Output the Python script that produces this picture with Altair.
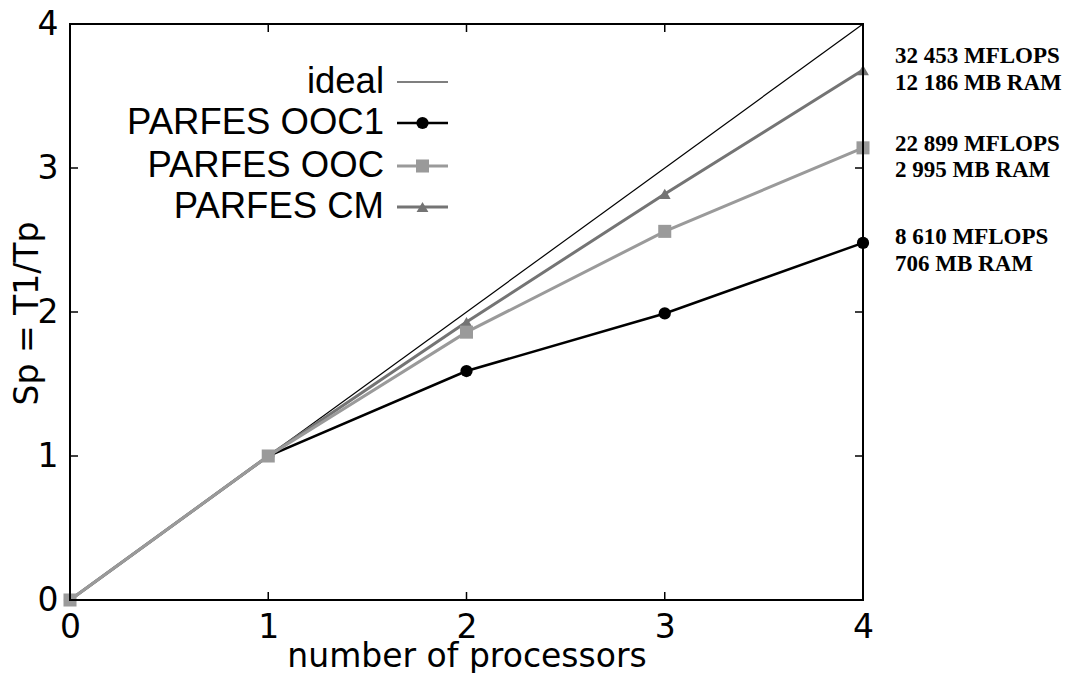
import altair as alt
import pandas as pd

# ---- data ----
procs = [0, 1, 2, 3, 4]
ooc1 = [0.0, 1.0, 1.59, 1.99, 2.48]
ooc = [0.0, 1.0, 1.86, 2.56, 3.14]
cm = [0.0, 1.0, 1.93, 2.82, 3.68]
ideal_x = [0, 4]
ideal_y = [0, 4]
tick_vals = [0, 1, 2, 3, 4]

legend_names = ["ideal", "PARFES OOC1", "PARFES OOC", "PARFES CM"]
annotations = [
    "32 453 MFLOPS", "12 186 MB RAM",
    "22 899 MFLOPS", "2 995 MB RAM",
    "8 610 MFLOPS", "706 MB RAM",
]

W, H = 793, 576
SANS = "DejaVu Sans"
LEG = "Liberation Sans"
SERIF = "Liberation Serif"

xs = alt.Scale(domain=[0, 4], nice=False, zero=False)
ys = alt.Scale(domain=[0, 4], nice=False, zero=False)

x_axis = alt.Axis(values=tick_vals, ticks=False, domain=False, grid=False,
                  labelFont=SANS, labelFontSize=33, labelColor="black",
                  labelPadding=11, labelFlush=False, labelOverlap=False,
                  labelBound=False, format="d",
                  title="number of processors", titleFont=SANS,
                  titleFontSize=33, titleFontWeight="normal", titleColor="black",
                  titleY=66, titleBaseline="alphabetic")
y_axis = alt.Axis(values=tick_vals, ticks=False, domain=False, grid=False,
                  labelFont=SANS, labelFontSize=33, labelColor="black",
                  labelPadding=12, labelFlush=False, labelOverlap=False,
                  labelBound=False, format="d",
                  title="Sp = T1/Tp", titleFont=SANS, titleFontSize=33,
                  titleFontWeight="normal", titleColor="black",
                  titleX=-33, titleY=289, titleAngle=270,
                  titleBaseline="alphabetic", titleAlign="center")

ideal_df = pd.DataFrame({"x": ideal_x, "y": ideal_y})
base_ideal = alt.Chart(ideal_df).mark_line(color="black", strokeWidth=1.2).encode(
    x=alt.X("x:Q", scale=xs, axis=x_axis),
    y=alt.Y("y:Q", scale=ys, axis=y_axis),
)

GRAY_L = "#9a9a9a"
GRAY_D = "#747474"
series = [
    ("PARFES OOC1", ooc1, "black", 2.5, "circle", 150),
    ("PARFES CM", cm, GRAY_D, 3, "triangle-up", 140),
    ("PARFES OOC", ooc, GRAY_L, 3, "square", 170),
]

layers = [base_ideal]
for name, vals, col, sw, shp, sz in series:
    df = pd.DataFrame({"x": procs, "y": vals})
    ln = alt.Chart(df).mark_line(color=col, strokeWidth=sw).encode(
        x=alt.X("x:Q", scale=xs), y=alt.Y("y:Q", scale=ys))
    pt = alt.Chart(df).mark_point(color=col, filled=True, opacity=1,
                                  shape=shp, size=sz).encode(
        x=alt.X("x:Q", scale=xs), y=alt.Y("y:Q", scale=ys))
    layers += [ln, pt]

one = pd.DataFrame({"a": [0]})

# frame (gnuplot border)
frame = [
    dict(x=alt.value(0), x2=alt.value(W), y=alt.value(0)),
    dict(x=alt.value(0), x2=alt.value(W), y=alt.value(H)),
    dict(y=alt.value(0), y2=alt.value(H), x=alt.value(0)),
    dict(y=alt.value(0), y2=alt.value(H), x=alt.value(W)),
]
for enc in frame:
    layers.append(alt.Chart(one).mark_rule(color="black", strokeWidth=2,
                                           strokeCap="square").encode(**enc))

# inward ticks on all four sides (gnuplot style)
tdf = pd.DataFrame({"v": tick_vals})
layers.append(alt.Chart(tdf).mark_rule(color="black", strokeWidth=1.5).encode(
    x=alt.X("v:Q", scale=xs), y=alt.value(H), y2=alt.value(H - 8)))
layers.append(alt.Chart(tdf).mark_rule(color="black", strokeWidth=1.5).encode(
    x=alt.X("v:Q", scale=xs), y=alt.value(0), y2=alt.value(8)))
layers.append(alt.Chart(tdf).mark_rule(color="black", strokeWidth=1.5).encode(
    y=alt.Y("v:Q", scale=ys), x=alt.value(0), x2=alt.value(8)))
layers.append(alt.Chart(tdf).mark_rule(color="black", strokeWidth=1.5).encode(
    y=alt.Y("v:Q", scale=ys), x=alt.value(W), x2=alt.value(W - 8)))

# manual legend (labels left of samples)
leg_y = [58, 99, 142, 183]
leg_style = {
    "ideal": ("black", 1.2, None, 0),
    "PARFES OOC1": ("black", 2.5, "circle", 150),
    "PARFES OOC": (GRAY_L, 3, "square", 170),
    "PARFES CM": (GRAY_D, 3, "triangle-up", 140),
}
for name, yy in zip(legend_names, leg_y):
    col, sw, shp, sz = leg_style[name]
    layers.append(alt.Chart(one).mark_text(
        align="right", baseline="middle", font=LEG, fontSize=36.5,
        color="black").encode(x=alt.value(314), y=alt.value(yy),
                              text=alt.value(name)))
    layers.append(alt.Chart(one).mark_rule(color=col, strokeWidth=sw).encode(
        x=alt.value(327), x2=alt.value(378), y=alt.value(yy)))
    if shp:
        layers.append(alt.Chart(one).mark_point(
            color=col, filled=True, opacity=1, shape=shp, size=sz).encode(
            x=alt.value(352.5), y=alt.value(yy)))

# right-hand annotations
ann_y = [32, 59, 120, 146, 213, 240]
for txt, yy in zip(annotations, ann_y):
    layers.append(alt.Chart(one).mark_text(
        align="left", baseline="middle", font=SERIF, fontSize=23,
        fontWeight="bold", color="black").encode(
        x=alt.value(825), y=alt.value(yy), text=alt.value(txt)))

chart = alt.layer(*layers).properties(
    width=W, height=H,
    autosize=alt.AutoSizeParams(type="none"),
    padding={"left": 62, "top": 16, "right": 201, "bottom": 73},
).configure_view(strokeWidth=0).configure(background="white")

chart.save("out.html", embed_options={"renderer": "svg", "actions": False})
